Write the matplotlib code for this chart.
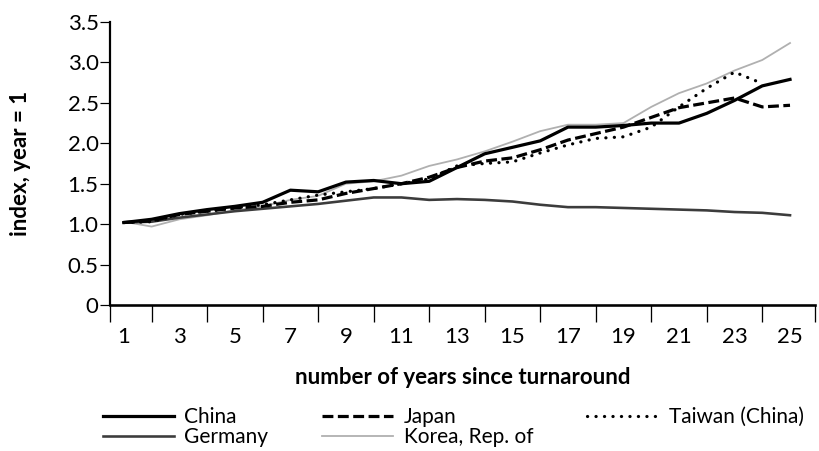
import matplotlib
matplotlib.use("Agg")
import matplotlib.pyplot as plt
import numpy as np

plt.rcParams['font.family'] = ['Lato', 'DejaVu Sans']

years = list(range(1, 26))
china = [1.02, 1.06, 1.13, 1.18, 1.22, 1.27, 1.42, 1.40, 1.52, 1.54, 1.50, 1.53, 1.70,
         1.87, 1.95, 2.03, 2.20, 2.20, 2.22, 2.25, 2.25, 2.37, 2.53, 2.71, 2.79]
japan = [1.02, 1.04, 1.12, 1.16, 1.20, 1.22, 1.27, 1.30, 1.38, 1.44, 1.50, 1.58, 1.70,
         1.78, 1.82, 1.92, 2.04, 2.12, 2.20, 2.32, 2.44, 2.50, 2.56, 2.45, 2.47]
taiwan = [1.02, 1.03, 1.12, 1.16, 1.20, 1.24, 1.30, 1.36, 1.40, 1.44, 1.50, 1.56, 1.72,
          1.75, 1.77, 1.88, 1.98, 2.06, 2.08, 2.20, 2.45, 2.68, 2.88, 2.74, np.nan]
germany = [1.02, 1.03, 1.08, 1.12, 1.16, 1.19, 1.22, 1.25, 1.29, 1.33, 1.33, 1.30, 1.31,
           1.30, 1.28, 1.24, 1.21, 1.21, 1.20, 1.19, 1.18, 1.17, 1.15, 1.14, 1.11]
korea = [1.03, 0.97, 1.06, 1.11, 1.17, 1.22, 1.30, 1.35, 1.50, 1.53, 1.60, 1.72, 1.80,
         1.90, 2.02, 2.15, 2.23, 2.23, 2.25, 2.45, 2.62, 2.74, 2.90, 3.03, 3.24]

ytick_vals = [0, 0.5, 1.0, 1.5, 2.0, 2.5, 3.0, 3.5]
ytick_labels = ["0", "0.5", "1.0", "1.5", "2.0", "2.5", "3.0", "3.5"]
xlabel_vals = list(range(1, 26, 2))

fig = plt.figure(figsize=(8.2, 4.51), dpi=100)
ax = fig.add_axes([110/820, (451-305)/451, (815-110)/820, (305-22)/451])

px = 72/100  # points per pixel

ax.plot(years, korea, color='#b0b0b0', lw=1.8*px, label='Korea, Rep. of', zorder=2)
ax.plot(years, germany, color='#3c3c3c', lw=2.6*px, label='Germany', zorder=3)
ax.plot(years, taiwan, color='black', lw=3.2*px, linestyle=(0, (0.05, 2.6)),
        dash_capstyle='round', label='Taiwan (China)', zorder=4)
ax.plot(years, japan, color='black', lw=3.2*px, linestyle=(0, (3.4, 1.4)),
        label='Japan', zorder=5)
ax.plot(years, china, color='black', lw=3.2*px, label='China', zorder=6)

ax.set_ylim(0, 3.5)
ax.set_xlim(0.5, 25.9)

ax.spines['top'].set_visible(False)
ax.spines['right'].set_visible(False)
ax.spines['left'].set_linewidth(2.2*px)
ax.spines['bottom'].set_linewidth(2.6*px)

ax.set_yticks(ytick_vals)
ax.set_yticklabels(ytick_labels)
ax.tick_params(axis='y', direction='out', length=10*px, width=1.2*px,
               labelsize=16, pad=1)

major_x = [0.5] + list(range(2, 25, 2)) + [25.9]
ax.set_xticks(major_x)
ax.set_xticklabels([''] * len(major_x))
ax.set_xticks(xlabel_vals, minor=True)
ax.set_xticklabels([str(v) for v in xlabel_vals], minor=True)
ax.tick_params(axis='x', which='major', direction='out', length=17*px, width=1.3*px)
ax.tick_params(axis='x', which='minor', length=0, labelsize=16, pad=16)

ax.set_xlabel('number of years since turnaround', fontsize=16, fontweight='bold',
              labelpad=14)
ax.set_ylabel('index, year = 1', fontsize=16, fontweight='bold', labelpad=26)

handles, labels = ax.get_legend_handles_labels()
order = ['China', 'Germany', 'Japan', 'Korea, Rep. of', 'Taiwan (China)']
hmap = dict(zip(labels, handles))
fig.legend([hmap[k] for k in order], order, ncol=3, loc='upper left',
           bbox_to_anchor=(103/820, (451-407)/451), frameon=False, fontsize=15,
           handlelength=3.4, handletextpad=0.5, columnspacing=2.6,
           labelspacing=0.0, borderpad=0, borderaxespad=0)

fig.savefig('out.png', dpi=100)
